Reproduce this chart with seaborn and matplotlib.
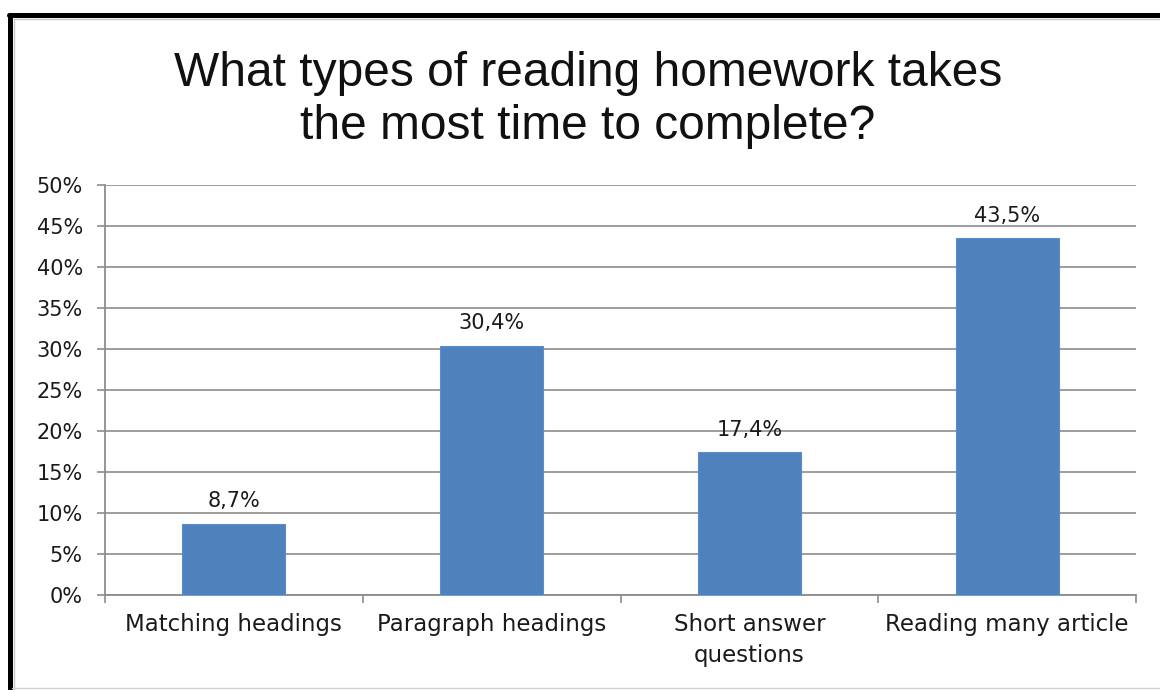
import matplotlib
matplotlib.use("Agg")
import matplotlib.pyplot as plt
import seaborn as sns
import pandas as pd
from matplotlib.lines import Line2D
from matplotlib.ticker import FixedLocator, FuncFormatter

categories = ["Matching headings", "Paragraph headings", "Short answer\nquestions", "Reading many article"]
values = [8.7, 30.4, 17.4, 43.5]
value_labels = ["8,7%", "30,4%", "17,4%", "43,5%"]
title = "What types of reading homework takes\nthe most time to complete?"

sns.set_theme(style="white")
plt.rcParams['font.family'] = ['DejaVu Sans']

df = pd.DataFrame({"category": categories, "value": values})

fig = plt.figure(figsize=(11.6, 6.9), dpi=100)
ax = fig.add_axes([105/1160, 1-595/690, (1136-105)/1160, (595-185)/690])

sns.barplot(data=df, x="category", y="value", color="#4f81bd", width=0.4,
            saturation=1, ax=ax, edgecolor="#5b8ccc", linewidth=0.8, zorder=3)

ax.set_xlim(-0.5, 3.5)
ax.set_ylim(0, 50)
ax.set_yticks(range(0, 51, 5))
ax.yaxis.set_major_formatter(FuncFormatter(lambda v, p: f"{int(v)}%"))
ax.grid(axis="y", color="#8c8c8c", linewidth=1.2, zorder=0)
ax.set_axisbelow(True)
ax.set_xlabel("")
ax.set_ylabel("")

for s in ["top", "right"]:
    ax.spines[s].set_visible(False)
for s in ["left", "bottom"]:
    ax.spines[s].set_color("#8c8c8c")
    ax.spines[s].set_linewidth(1.3)

ax.tick_params(axis="y", which="major", direction="out", length=6, width=1.2,
               color="#8c8c8c", pad=10, labelsize=15, labelcolor="#1a1a1a", left=True)
ax.tick_params(axis="x", which="major", length=0, pad=13, labelsize=16.5, labelcolor="#1a1a1a")
ax.xaxis.set_minor_locator(FixedLocator([-0.5, 0.5, 1.5, 2.5, 3.5]))
ax.tick_params(axis="x", which="minor", direction="out", length=6, width=1.2,
               color="#8c8c8c", bottom=True)
for lbl in ax.get_xticklabels():
    lbl.set_verticalalignment("top")
    lbl.set_linespacing(1.45)

ax.bar_label(ax.containers[0], labels=value_labels, padding=9, fontsize=15,
             color="#1a1a1a")

fig.text(0.507, 0.855, title, ha="center", va="center", fontsize=34.5,
         family=["Liberation Sans", "DejaVu Sans"], color="#111111", linespacing=1.25)

# frame
fig.add_artist(Line2D([10/1160, 10/1160], [0, 1-15/690], transform=fig.transFigure,
                      color="black", linewidth=3.6))
fig.add_artist(Line2D([8.5/1160, 1], [1-15/690, 1-15/690], transform=fig.transFigure,
                      color="black", linewidth=3.6))
fig.add_artist(Line2D([14/1160, 1], [1-18.5/690, 1-18.5/690], transform=fig.transFigure,
                      color="#c8c8c8", linewidth=1))
fig.add_artist(Line2D([13.5/1160, 13.5/1160], [0, 1-18.5/690], transform=fig.transFigure,
                      color="#c8c8c8", linewidth=1))
fig.add_artist(Line2D([12/1160, 1], [2/690, 2/690], transform=fig.transFigure,
                      color="#d0d0d0", linewidth=1))

fig.savefig("out.png", dpi=100)
